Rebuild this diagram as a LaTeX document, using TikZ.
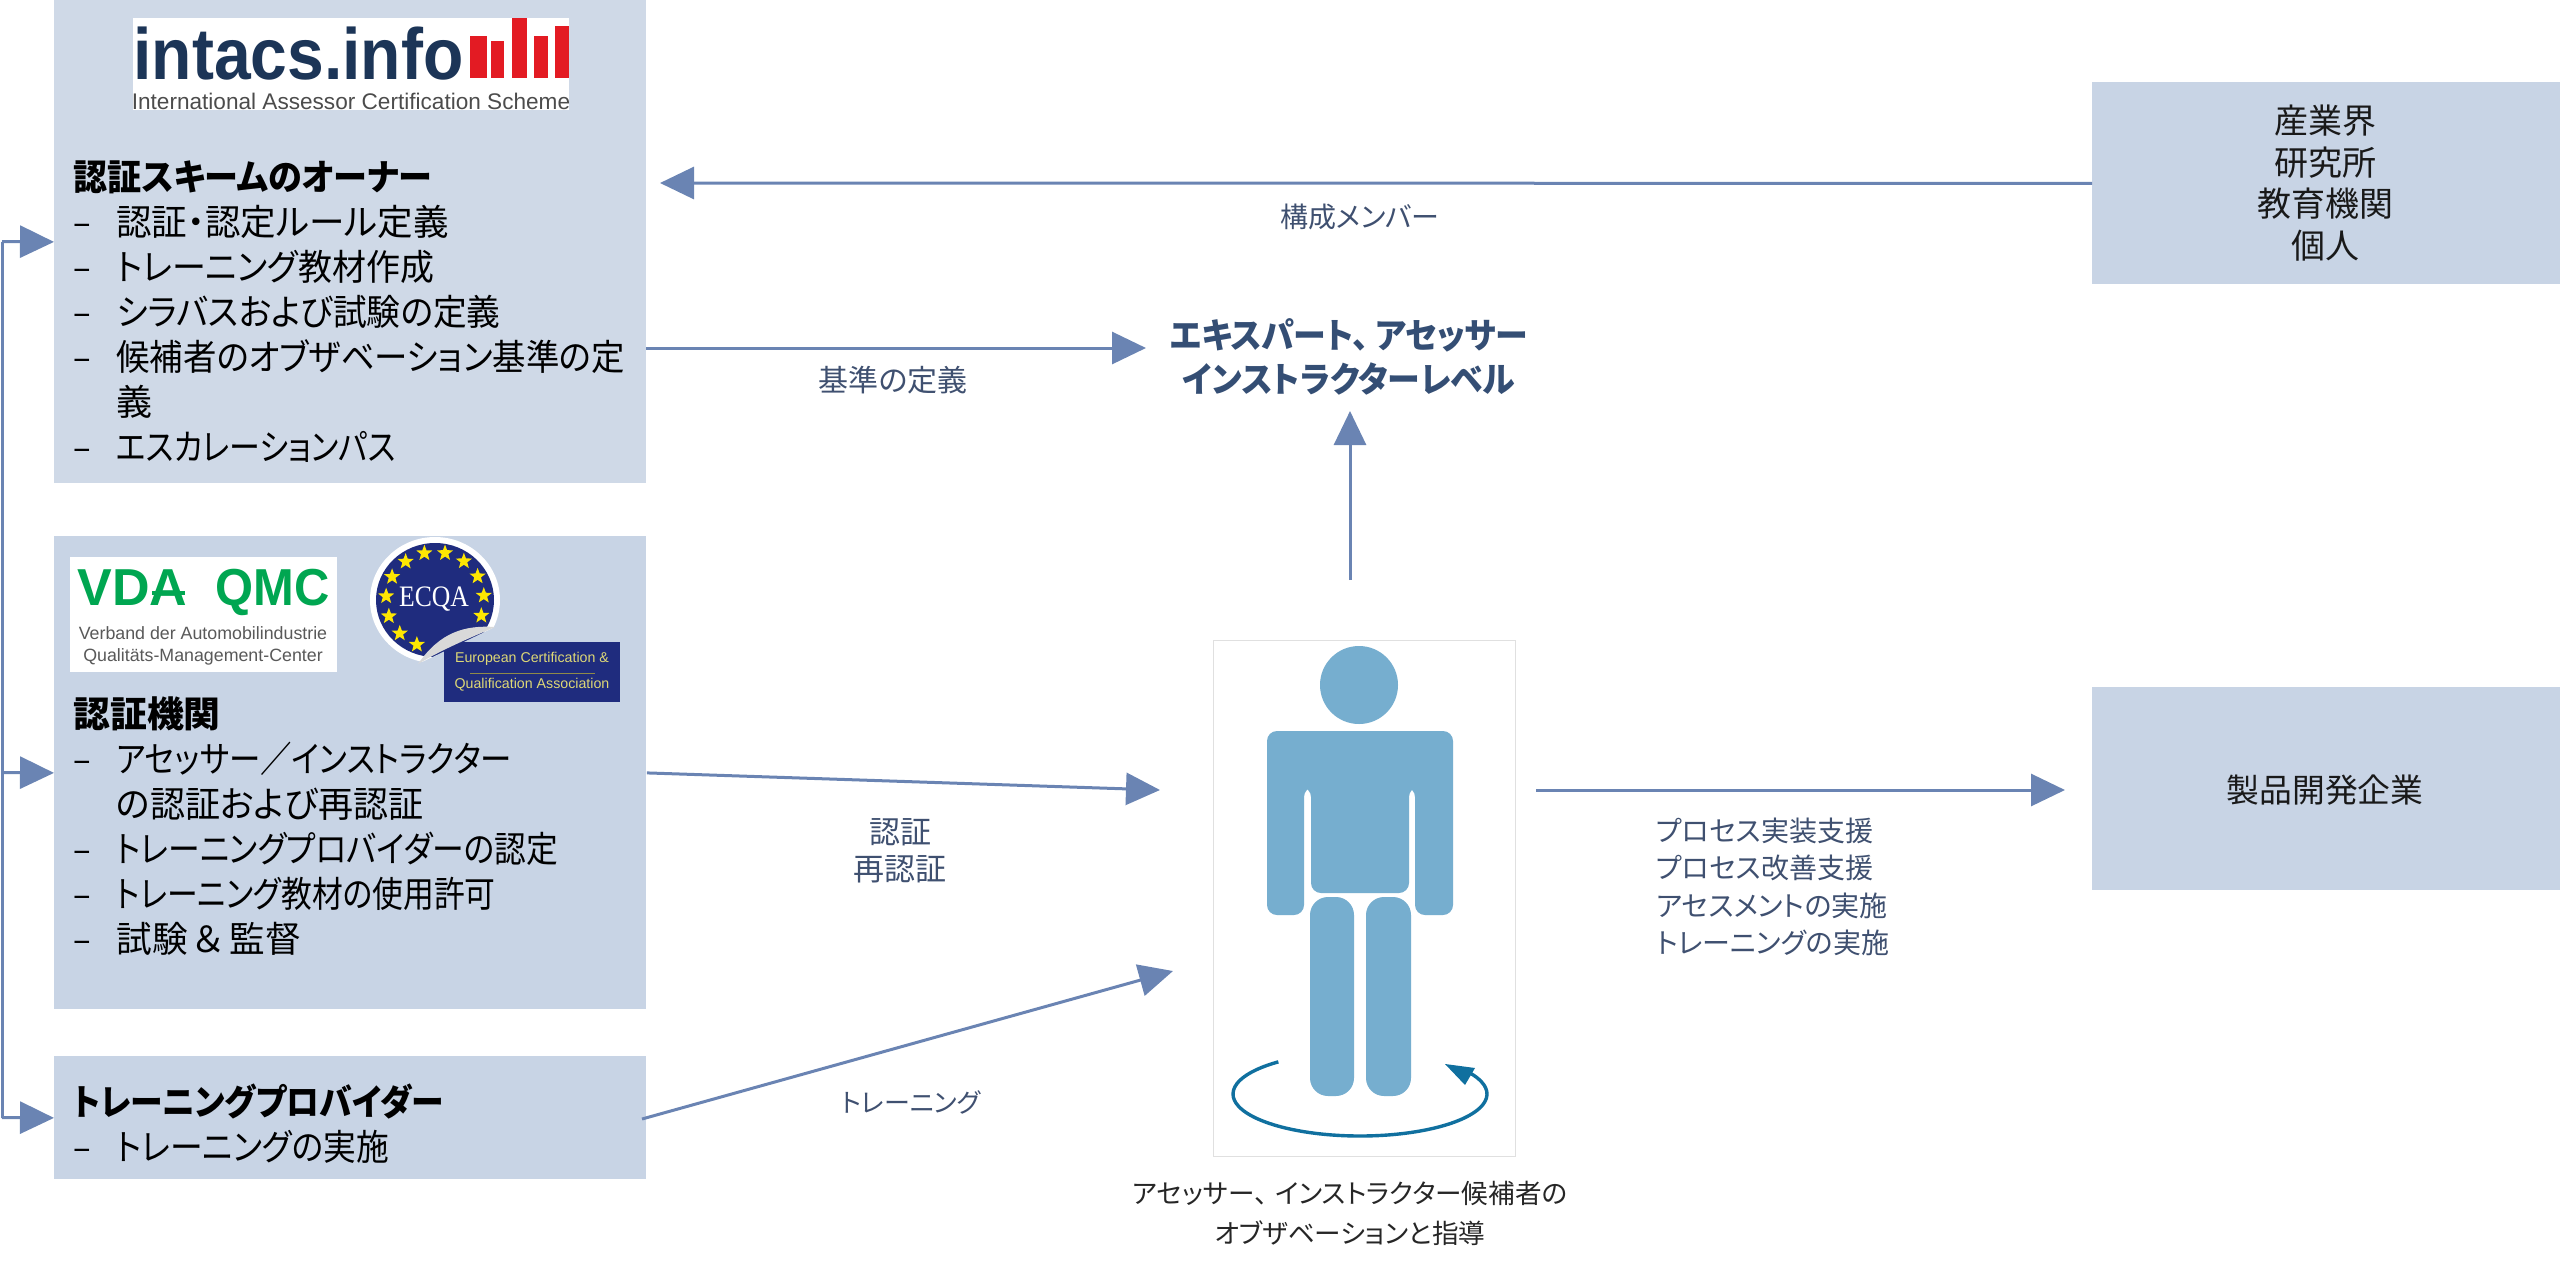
\documentclass[tikz,border=0pt]{standalone}
\usepackage{fontspec}
\usetikzlibrary{arrows.meta,positioning,shapes.geometric}
\setmainfont{Liberation Sans}
\newfontfamily\jpfont[RawFeature={+palt}]{Noto Sans CJK JP}
\newfontfamily\listfont[RawFeature={+palt},FakeStretch=0.91]{Noto Sans CJK JP}
\newfontfamily\headfont[RawFeature={+palt},FakeStretch=0.94]{Noto Sans CJK JP}
\newfontfamily\sealfont{Liberation Serif}
\definecolor{panelblue}{HTML}{C8D4E5}
\definecolor{panelpale}{HTML}{CFD9E7}
\definecolor{flowblue}{HTML}{6A84B3}
\definecolor{slatetext}{HTML}{3F5070}
\definecolor{headtext}{HTML}{344E74}
\definecolor{personblue}{HTML}{76AECF}
\definecolor{ringblue}{HTML}{10709F}
\definecolor{navylogo}{HTML}{1C3557}
\definecolor{redlogo}{HTML}{E31B23}
\definecolor{greenlogo}{HTML}{00A651}
\definecolor{ecqablue}{HTML}{1F2C7E}
\newcommand{\dashitem}[2][1]{\makebox[21.5pt][l]{–}\scalebox{#1}[1]{#2}}
\newcommand{\dashgap}{\hspace*{21.5pt}}
\newcommand{\listhead}[2][1]{\scalebox{#1}[1]{\textbf{#2}}}
\begin{document}
\begin{tikzpicture}
    [
    x=0.5pt,y=-0.5pt,
    panel/.style={fill=panelblue,inner sep=0pt,anchor=north west},
    panellist/.style={anchor=north west,inner sep=0pt,align=left,text=black,
      font=\listfont\fontsize{18}{22.5}\selectfont},
    flowlabel/.style={inner sep=0pt,align=center,text=slatetext,
      font=\jpfont\fontsize{14}{18.7}\selectfont},
    flow/.style={draw=flowblue,line width=1.5pt,
      -{Triangle[length=17pt,width=16pt,fill=flowblue]}},
    plainflow/.style={draw=flowblue,line width=1.5pt},
    person/.style={fill=personblue},
    logobox/.style={fill=white,inner sep=0pt,anchor=north west},
    ]
    \useasboundingbox (0,0) rectangle (2560,1270);
    % panels
    \node[panel,fill=panelpale,minimum width=296pt,minimum height=241.5pt] (owner) at (54,0) {};
    \node[panel,minimum width=296pt,minimum height=236.5pt] (body) at (54,536) {};
    \node[panel,minimum width=296pt,minimum height=61.5pt] (provider) at (54,1056) {};
    \node[panel,minimum width=234pt,minimum height=101pt] (members) at (2092,82) {};
    \node[panel,minimum width=234pt,minimum height=101.5pt] (company) at (2092,687) {};
    % intacs logo
    \node[logobox,minimum width=218pt,minimum height=46pt] (intacslogo) at (133,18) {};
    \node[anchor=base west,inner sep=0pt,text=navylogo,yscale=1.1,transform shape,
      font=\fontsize{33}{33}\selectfont\bfseries] (intacsname) at (133,79) {intacs.info};
    \foreach \xa/\xb/\ytop in {470/487/36,491/504/41,512/527/18,534/548/36,555/569/26}
      \fill[redlogo] (\xa,\ytop) rectangle (\xb,78);
    \node[anchor=center,inner sep=0pt,text=black!70,font=\fontsize{11.3}{12}\selectfont] (intacsscheme)
      at (351,101) {International Assessor Certification Scheme};
    % vda logo
    \node[logobox,minimum width=133.5pt,minimum height=57.5pt] (vdalogo) at (70,557) {};
    \node[anchor=base west,inner sep=0pt,text=greenlogo,font=\fontsize{26}{26}\selectfont\bfseries] (vdaname)
      at (77,605) {VDA};
    \fill[greenlogo] (152,591) rectangle (185,595);
    \node[anchor=base west,inner sep=0pt,text=greenlogo,xscale=0.94,transform shape,
      font=\fontsize{26}{26}\selectfont\bfseries] (qmcname) at (215,605) {QMC};
    \node[anchor=north,inner sep=0pt,align=center,text=black!65,font=\fontsize{8.9}{11}\selectfont] (vdatext)
      at (203,626) {Verband der Automobilindustrie\\Qualitäts-Management-Center};
    % ecqa seal
    \fill[white] (435,600) ellipse [x radius=32.5pt,y radius=31.5pt];
    \fill[ecqablue] (435,600) ellipse [x radius=29.5pt,y radius=28.5pt];
    \foreach \k in {0,...,11}
      \node[star,star points=5,star point ratio=2.4,fill=yellow!90!orange,inner sep=0pt,minimum size=8.5pt]
        (seal\k) at ({435+49*cos(-19+24.3*\k)},{600-48*sin(-19+24.3*\k)}) {};
    \node[inner sep=0pt,text=white,xscale=0.95,yscale=1.1,transform shape,font=\sealfont\fontsize{13.5}{14}\selectfont] (ecqaname)
      at (434,599) {ECQA};
    \fill[panelblue] (418,664) -- (495,627) -- (510,640) -- (510,670) -- cycle;
    \node[logobox,fill=ecqablue,minimum width=88pt,minimum height=30pt] (ecqabanner) at (444,642) {};
    \fill[white!85!black] (418,664) .. controls (440,632) and (465,625) .. (495,627)
      .. controls (470,638) and (445,648) .. cycle;
    \node[inner sep=0pt,align=center,text=yellow!55!white!85!black,font=\fontsize{7.1}{13}\selectfont] (ecqatext)
      at (532,672) {European Certification \&\\Qualification Association};
    \draw[yellow!50!black,line width=0.4pt] (470,673) -- (595,673);
    % lists
    \node[panellist] (ownerlist) at (73,160) {\listhead[1.04]{認証スキームのオーナー}\\
      \dashitem[1.085]{認証・認定ルール定義}\\
      \dashitem[1.037]{トレーニング教材作成}\\
      \dashitem[1.03]{シラバスおよび試験の定義}\\
      \dashitem[1.02]{候補者のオブザベーション基準の定}\\
      \dashgap \scalebox{1.1}[1]{義}\\
      \dashitem[0.945]{エスカレーションパス}};
    \node[panellist] (bodylist) at (73,696) {\listhead[1.125]{認証機関}\\
      \dashitem[0.96]{アセッサー／インストラクター}\\
      \dashgap \scalebox{1.07}[1]{の認証および再認証}\\
      \dashitem[0.97]{トレーニングプロバイダーの認定}\\
      \dashitem[0.94]{トレーニング教材の使用許可}\\
      \dashitem[1.087]{試験\,＆\,監督}};
    \node[panellist] (providerlist) at (73,1083) {\listhead{トレーニングプロバイダー}\\
      \dashitem{トレーニングの実施}};
    \node[flowlabel,text=black!90,font=\jpfont\fontsize{17}{20.8}\selectfont] (memberstext)
      at (2325,183) {産業界\\研究所\\教育機関\\個人};
    \node[flowlabel,text=black!90,font=\jpfont\fontsize{16.4}{21}\selectfont] (companytext)
      at (2325,790) {製品開発企業};
    \node[flowlabel,text=headtext,font=\headfont\fontsize{17.5}{22}\selectfont\bfseries] (levels)
      at (1349,357) {エキスパート、\hspace{3pt}アセッサー\\インストラクターレベル};
    % person
    \node[panel,fill=white,draw=black!12,line width=0.4pt,minimum width=151pt,minimum height=258pt] (candidate) at (1213,640) {};
    \fill[person] (1359,685) ellipse [x radius=19.5pt,y radius=19.5pt];
    \fill[person,rounded corners=5pt] (1267,731) -- (1453,731) -- (1453,915) -- (1415,915) -- (1415,787)
      -- (1409,787) -- (1409,893) -- (1311,893) -- (1311,787) -- (1304,787) -- (1304,915) -- (1267,915) -- cycle;
    \fill[person,rounded corners=9pt] (1310,897) rectangle (1354,1096);
    \fill[person,rounded corners=9pt] (1366,897) rectangle (1411,1096);
    \draw[ringblue,line width=1.7pt] plot[domain=130:395,samples=60,smooth] ({1360+127*cos(\x)},{1094-42*sin(\x)});
    \fill[ringblue] (1445,1064) -- (1475,1068) -- (1465,1085) -- cycle;
    \node[flowlabel,text=black!85,font=\jpfont\fontsize{13.3}{20}\selectfont] (candidatetext)
      at (1350,1213) {アセッサー、\hspace{4pt}インストラクター候補者の\\オブザベーションと指導};
    % connectors
    \coordinate (bustop) at (2,241.5);
    \coordinate (busbottom) at (2,1117.5);
    \coordinate (bodybus) at (2,772.5);
    \coordinate (ownerout) at (646,348);
    \coordinate (levelsin) at (1146,348);
    \coordinate (memberstip) at (660,183);
    \coordinate (levelsout) at (1350,580);
    \coordinate (levelstip) at (1350,411);
    \coordinate (bodytip) at (1160,790);
    \coordinate (providerout) at (642,1119);
    \coordinate (providertip) at (1173,971);
    \coordinate (candidateout) at (1536,790);
    \coordinate (companytip) at (2065,790);
    \draw[plainflow] (bustop) -- (busbottom);
    \draw[flow] (bustop) -- (owner.west);
    \draw[flow] (bodybus) -- (body.west);
    \draw[flow] (busbottom) -- (provider.west);
    \draw[flow] (members.west) -- (memberstip);
    \draw[flow] (ownerout) -- (levelsin);
    \draw[flow] (levelsout) -- (levelstip);
    \draw[flow] (body.east) -- (bodytip);
    \draw[flow] (providerout) -- (providertip);
    \draw[flow] (candidateout) -- (companytip);
    % labels
    \node[flowlabel] (memberslabel) at (1360,217) {構成メンバー};
    \node[flowlabel,font=\jpfont\fontsize{15}{18.7}\selectfont] (criterialabel) at (893,380) {基準の定義};
    \node[flowlabel,font=\jpfont\fontsize{15.5}{18.7}\selectfont] (certlabel) at (900,851) {認証\\再認証};
    \node[flowlabel,font=\jpfont\fontsize{13}{18.7}\selectfont] (traininglabel) at (911,1102) {トレーニング};
    \node[flowlabel,align=left,anchor=west] (servicelabel) at (1656,887)
      {プロセス実装支援\\プロセス改善支援\\アセスメントの実施\\トレーニングの実施};
  \end{tikzpicture}
\end{document}
